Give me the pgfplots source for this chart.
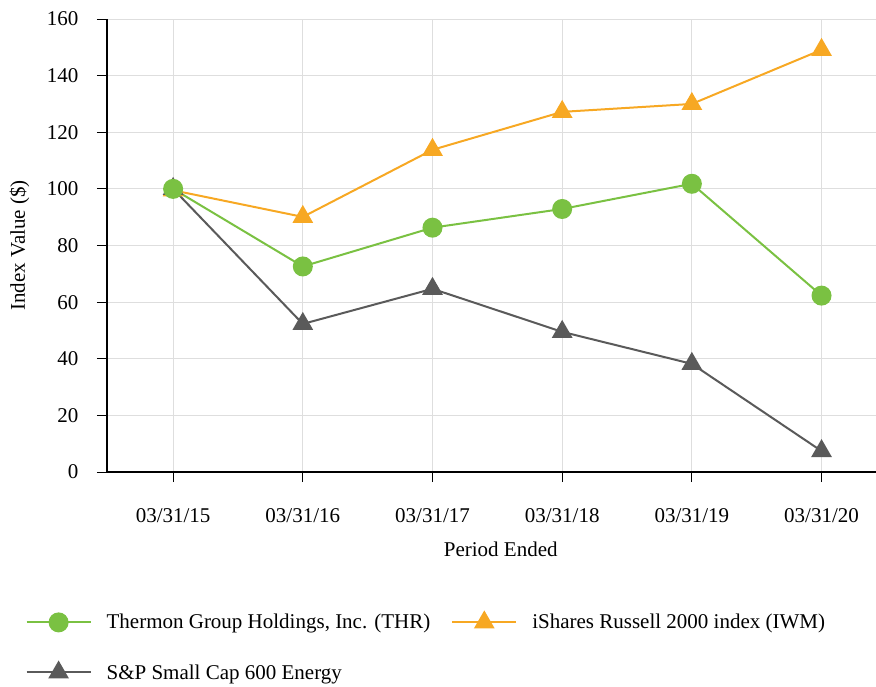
\documentclass[border=0pt]{standalone}
\usepackage{pgfplots}
\pgfplotsset{compat=1.18}
\usepackage{fontspec}
\setmainfont{Liberation Serif}
\definecolor{thr}{RGB}{122,193,66}
\definecolor{iwm}{RGB}{247,168,35}
\definecolor{spe}{RGB}{90,90,90}
\definecolor{gridc}{RGB}{222,222,222}
\begin{document}
\begin{tikzpicture}[x=1pt,y=1pt]
\path[use as bounding box] (0,0) rectangle (876,-687);
\begin{axis}[
  at={(107pt,-472pt)}, anchor=south west,
  scale only axis, width=769pt, height=453pt,
  xmin=-0.51, xmax=5.42, ymin=0, ymax=160,
  axis x line*=bottom, axis y line*=left,
  axis line style={-, black, line width=2.5pt},
  every outer x axis line/.append style={line width=2.5pt},
  every outer y axis line/.append style={line width=2.5pt},
  every inner x axis line/.append style={line width=2.5pt},
  every inner y axis line/.append style={line width=2.5pt},
  xtick={0,1,2,3,4,5},
  xticklabels={03/31/15,03/31/16,03/31/17,03/31/18,03/31/19,03/31/20},
  ytick={0,20,40,60,80,100,120,140,160},
  tick align=outside, major tick length=10pt,
  tick style={black, line width=1pt},
  grid=major, major grid style={gridc, line width=1pt},
  font=\fontsize{21}{25}\selectfont,
  /pgf/number format/assume math mode=true,
  yticklabel shift=15pt,
  xticklabel style={yshift=-23pt},
  xlabel={Period Ended},
  ylabel={Index Value (\$)},
  xlabel style={at={(ticklabel cs:0.512)}, anchor=north, yshift=-12pt},
  ylabel style={at={(axis description cs:-0.1138,0.5)}, anchor=center},
  legend columns=2,
  legend style={draw=none, fill=none, at={(axis description cs:-0.110,-0.305)}, anchor=north west,
    font=\fontsize{21}{25}\selectfont, row sep=30pt,
    /tikz/every odd column/.append style={column sep=13pt},
    /tikz/every even column/.append style={column sep=19pt},
    cells={anchor=west}},
  legend image code/.code={\draw[mark repeat=2,mark phase=2] plot coordinates {(0pt,0pt)(32pt,0pt)(64pt,0pt)};},
]
\addlegendimage{thr, line width=2pt, mark=*, mark size=9pt, mark options={solid, fill=thr, draw=thr}}
\addlegendentry{Thermon Group Holdings, Inc. (THR)}
\addlegendimage{iwm, line width=2pt, mark=triangle*, mark size=10pt, mark options={solid, fill=iwm, draw=iwm}}
\addlegendentry{iShares Russell 2000 index (IWM)}
\addlegendimage{spe, line width=2pt, mark=triangle*, mark size=10pt, mark options={solid, fill=spe, draw=spe}}
\addlegendentry{S\&P Small Cap 600 Energy}
\addplot[forget plot, iwm, line width=2pt, mark=triangle*, mark size=10pt, mark options={solid, fill=iwm, draw=iwm}]
  coordinates {(0,99.5) (1,90.1) (2,113.8) (3,127.2) (4,130.0) (5,149.1)};
\addplot[forget plot, spe, line width=2pt, mark=triangle*, mark size=10pt, mark options={solid, fill=spe, draw=spe}]
  coordinates {(0,100) (1,52.3) (2,64.7) (3,49.5) (4,38.2) (5,7.4)};
\addplot[forget plot, thr, line width=2pt, mark=*, mark size=9pt, mark options={solid, fill=thr, draw=thr}]
  coordinates {(0,100) (1,72.6) (2,86.3) (3,92.9) (4,101.8) (5,62.3)};
\end{axis}
\end{tikzpicture}
\end{document}
